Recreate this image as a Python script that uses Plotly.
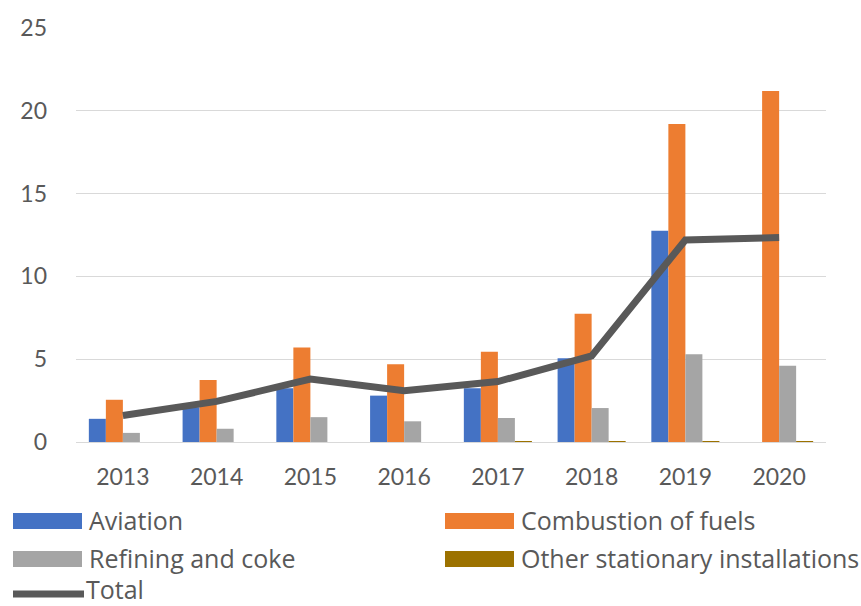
import plotly.graph_objects as go

years = ["2013", "2014", "2015", "2016", "2017", "2018", "2019", "2020"]
aviation = [1.4, 2.1, 3.25, 2.8, 3.25, 5.05, 12.75, 0.0]
combustion = [2.55, 3.75, 5.7, 4.7, 5.45, 7.75, 19.2, 21.2]
refining = [0.55, 0.8, 1.5, 1.25, 1.45, 2.05, 5.3, 4.6]
other_stationary = [0.0, 0.0, 0.0, 0.0, 0.02, 0.04, 0.05, 0.05]
total = [1.6, 2.45, 3.8, 3.1, 3.65, 5.2, 12.2, 12.35]

bar_series = [
    ("Aviation", aviation, "#4472C4"),
    ("Combustion of fuels", combustion, "#ED7D31"),
    ("Refining and coke", refining, "#A5A5A5"),
    ("Other stationary installations", other_stationary, "#9C7200"),
]
line_name = "Total"
line_color = "#595959"

TICK_FONT = "Lato"
LEGEND_FONT = "Open Sans"
TEXT_COLOR = "#595959"

fig = go.Figure()
for name, vals, color in bar_series:
    fig.add_trace(go.Bar(x=years, y=vals, name=name, marker_color=color,
                         marker_line_width=0, showlegend=False))
fig.add_trace(go.Scatter(x=years, y=total, name=line_name, mode="lines",
                         line=dict(color=line_color, width=7, shape="linear"),
                         showlegend=False))

# plot-area geometry in pixels
W, H = 861, 606
L, R, T, B = 76, 35, 28, 164
pw, ph = W - L - R, H - T - B


def px(x):
    return (x - L) / pw


def py(y):
    return (H - B - y) / ph


# hand-built legend: wide swatches, two columns
shapes = []
annotations = []
cols = [13, 445]
rows = [521, 559]
for i, (name, _, color) in enumerate(bar_series):
    cx = cols[i % 2]
    cy = rows[i // 2]
    shapes.append(dict(type="rect", xref="paper", yref="paper",
                       x0=px(cx), x1=px(cx + 69), y0=py(cy - 8), y1=py(cy + 8),
                       fillcolor=color, line_width=0, layer="above"))
    annotations.append(dict(text=name, xref="paper", yref="paper",
                            x=px(cx + 74), y=py(cy - 1), xanchor="left", yanchor="middle",
                            showarrow=False,
                            font=dict(family=LEGEND_FONT, size=25, color=TEXT_COLOR)))
shapes.append(dict(type="line", xref="paper", yref="paper",
                   x0=px(13), x1=px(84), y0=py(594), y1=py(594),
                   line=dict(color=line_color, width=7), layer="above"))
annotations.append(dict(text=line_name, xref="paper", yref="paper",
                        x=px(84), y=py(589), xanchor="left", yanchor="middle",
                        showarrow=False,
                        font=dict(family=LEGEND_FONT, size=25, color=TEXT_COLOR)))

fig.update_layout(
    width=W, height=H,
    margin=dict(l=L, r=R, t=T, b=B, pad=0),
    paper_bgcolor="white", plot_bgcolor="white",
    barmode="group", bargap=0.274, bargroupgap=0,
    font=dict(family=TICK_FONT, size=23, color=TEXT_COLOR),
    shapes=shapes, annotations=annotations,
    showlegend=False,
)
fig.update_xaxes(showgrid=False, showline=False, zeroline=False, ticks="",
                 tickfont=dict(family=TICK_FONT, size=23, color=TEXT_COLOR),
                 ticklabelstandoff=19)
fig.update_yaxes(range=[0, 25], tickvals=[0, 5, 10, 15, 20, 25],
                 showgrid=True, gridcolor="#D9D9D9", gridwidth=1,
                 zeroline=True, zerolinecolor="#D9D9D9", zerolinewidth=1,
                 showline=False, ticks="",
                 tickfont=dict(family=TICK_FONT, size=23, color=TEXT_COLOR),
                 ticklabelstandoff=28)

fig.write_html("out.html")
